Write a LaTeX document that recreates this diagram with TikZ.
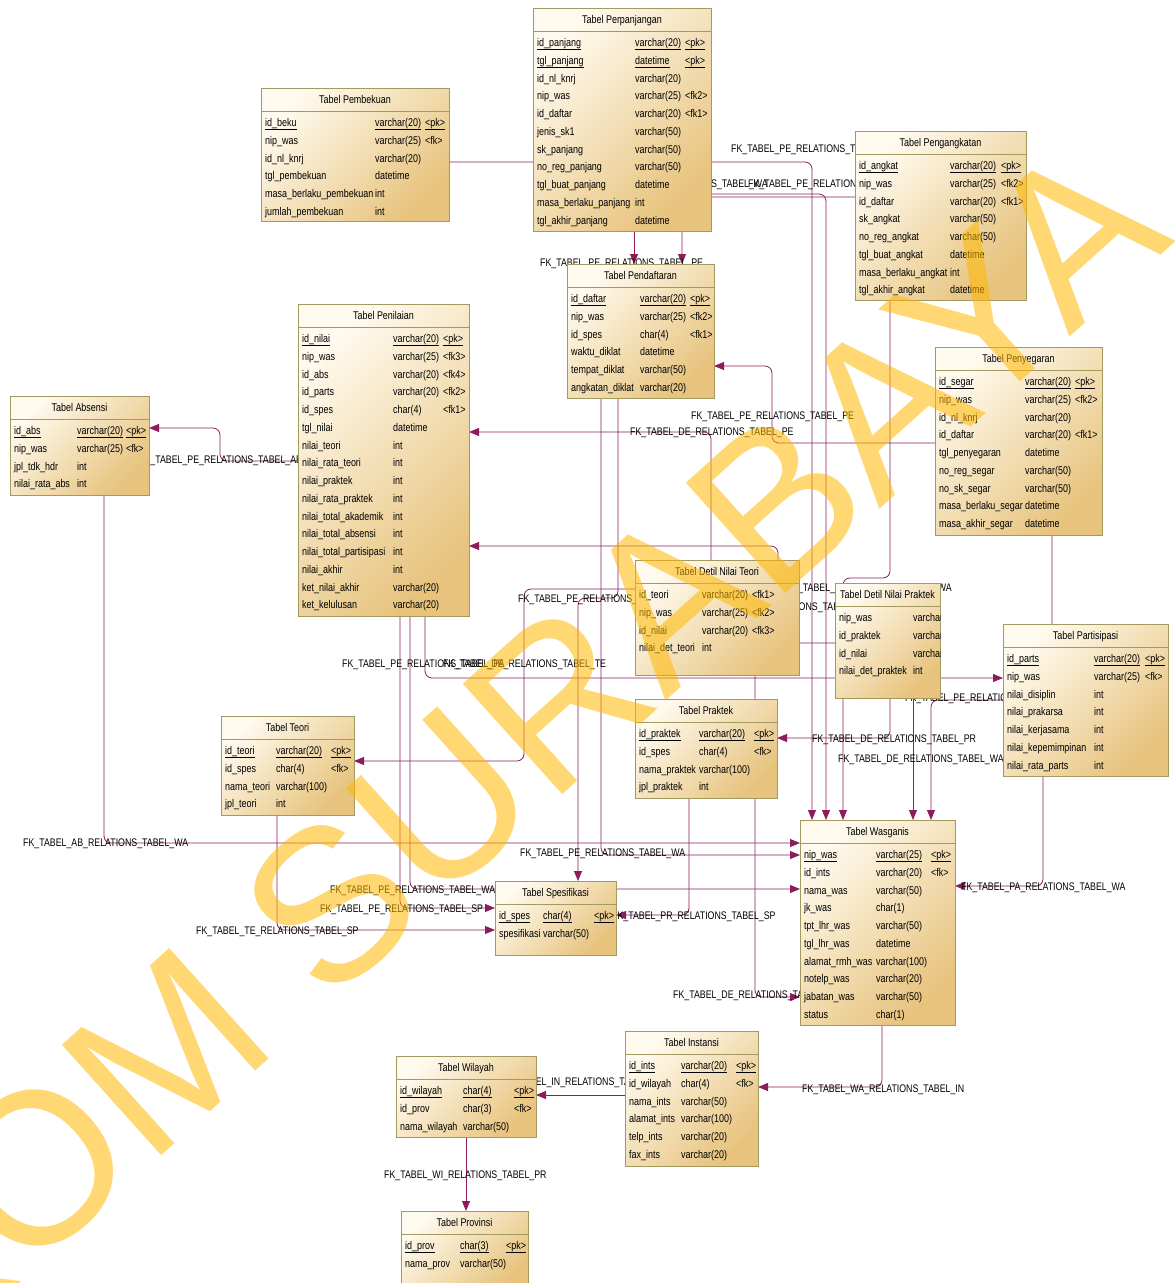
\documentclass[tikz,border=0pt]{standalone}
\usepackage{fontspec}
\setmainfont[FakeStretch=0.8]{Liberation Sans}
\newfontfamily\wmfont{Liberation Sans}
\usetikzlibrary{arrows.meta,calc}
\definecolor{fkcol}{HTML}{8C1D5A}
\definecolor{boxborder}{HTML}{A39A62}
\definecolor{boxlight}{HTML}{FFFAEE}
\definecolor{boxdark}{HTML}{E7C37D}
\definecolor{wmark}{HTML}{FFB800}
\pgfdeclarelayer{links}
\pgfdeclarelayer{wm}
\pgfsetlayers{links,main,wm}
\tikzset{
  erbox/.style={draw=boxborder, line width=0.9pt, inner sep=0pt, outer sep=0pt,
    top color=boxlight, bottom color=boxdark, shading angle=45},
  erborder/.style={draw=boxborder, line width=0.9pt},
  ertitle/.style={inner sep=0pt, font=\fontsize{11.2}{13}\selectfont, anchor=base},
  ercell/.style={inner sep=0pt, font=\fontsize{11.2}{13}\selectfont, anchor=base west},
  ul/.style={draw=black, line width=0.8pt},
  fk/.style={draw=fkcol, line width=0.8pt, rounded corners=7pt,
    -{Triangle[length=10pt,width=8pt]}},
  fklabel/.style={inner sep=0pt, font=\fontsize{11}{13}\selectfont},
  wmstyle/.style={inner sep=0pt, text=wmark, opacity=0.55, rotate=42,
    font=\wmfont\fontsize{216}{216}\selectfont},
}
% #1 name, #2 left, #3 top, #4 width, #5 height, #6 title,
% #7 type column offset, #8 key column offset, #9 rows name/type/key/pk-flag
\newcommand\ertable[9]{%
  \node[erbox, anchor=north west, minimum width=#4pt, minimum height=#5pt] (#1) at (#2,#3) {};
  \node[ertitle] (#1-title) at ($(#1.north west)+(#4/2,15)$) {#6};
  \draw[erborder] ($(#1.north west)+(0,23.5)$) -- ($(#1.north east)+(0,23.5)$);
  \begin{scope}
    \clip (#1.north west) rectangle (#1.south east);
    \foreach \cn/\ct/\ck/\cu [count=\ci] in {#9} {
      \pgfmathsetmacro\ery{38.5+(\ci-1)*17.75}
      \node[ercell] (#1-\ci-n) at ($(#1.north west)+(4,\ery)$) {\cn};
      \node[ercell] (#1-\ci-t) at ($(#1.north west)+(#7,\ery)$) {\ct};
      \node[ercell] (#1-\ci-k) at ($(#1.north west)+(#8,\ery)$) {\ck};
      \ifnum\cu=1
        \draw[ul] ($(#1-\ci-n.base west)+(0,3)$) -- ($(#1-\ci-n.base east)+(0,3)$);
        \draw[ul] ($(#1-\ci-t.base west)+(0,3)$) -- ($(#1-\ci-t.base east)+(0,3)$);
        \draw[ul] ($(#1-\ci-k.base west)+(0,3)$) -- ($(#1-\ci-k.base east)+(0,3)$);
      \fi
    }
  \end{scope}
}
\begin{document}
\catcode`\_=12
\begin{tikzpicture}[x=1pt,y=-1pt]
\useasboundingbox (0,0) rectangle (1175,1283);

% ---------- tables ----------
\ertable{perp}{533}{8}{178}{223}{Tabel Perpanjangan}{102}{152}{%
id_panjang/varchar(20)/<pk>/1,tgl_panjang/datetime/<pk>/1,id_nl_knrj/varchar(20)//0,%
nip_was/varchar(25)/<fk2>/0,id_daftar/varchar(20)/<fk1>/0,jenis_sk1/varchar(50)//0,%
sk_panjang/varchar(50)//0,no_reg_panjang/varchar(50)//0,tgl_buat_panjang/datetime//0,%
masa_berlaku_panjang/int//0,tgl_akhir_panjang/datetime//0}

\ertable{pemb}{261}{88}{188}{133}{Tabel Pembekuan}{114}{164}{%
id_beku/varchar(20)/<pk>/1,nip_was/varchar(25)/<fk>/0,id_nl_knrj/varchar(20)//0,%
tgl_pembekuan/datetime//0,masa_berlaku_pembekuan/int//0,jumlah_pembekuan/int//0}

\ertable{peng}{855}{131}{171}{169}{Tabel Pengangkatan}{95}{146}{%
id_angkat/varchar(20)/<pk>/1,nip_was/varchar(25)/<fk2>/0,id_daftar/varchar(20)/<fk1>/0,%
sk_angkat/varchar(50)//0,no_reg_angkat/varchar(50)//0,tgl_buat_angkat/datetime//0,%
masa_berlaku_angkat/int//0,tgl_akhir_angkat/datetime//0}

\ertable{pend}{567}{264}{147}{134}{Tabel Pendaftaran}{73}{123}{%
id_daftar/varchar(20)/<pk>/1,nip_was/varchar(25)/<fk2>/0,id_spes/char(4)/<fk1>/0,%
waktu_diklat/datetime//0,tempat_diklat/varchar(50)//0,angkatan_diklat/varchar(20)//0}

\ertable{peni}{298}{304}{171}{312}{Tabel Penilaian}{95}{145}{%
id_nilai/varchar(20)/<pk>/1,nip_was/varchar(25)/<fk3>/0,id_abs/varchar(20)/<fk4>/0,%
id_parts/varchar(20)/<fk2>/0,id_spes/char(4)/<fk1>/0,tgl_nilai/datetime//0,%
nilai_teori/int//0,nilai_rata_teori/int//0,nilai_praktek/int//0,nilai_rata_praktek/int//0,%
nilai_total_akademik/int//0,nilai_total_absensi/int//0,nilai_total_partisipasi/int//0,%
nilai_akhir/int//0,ket_nilai_akhir/varchar(20)//0,ket_kelulusan/varchar(20)//0}

\ertable{abs}{10}{396}{139}{99}{Tabel Absensi}{67}{116}{%
id_abs/varchar(20)/<pk>/1,nip_was/varchar(25)/<fk>/0,jpl_tdk_hdr/int//0,nilai_rata_abs/int//0}

\ertable{segar}{935}{347}{167}{188}{Tabel Penyegaran}{90}{140}{%
id_segar/varchar(20)/<pk>/1,nip_was/varchar(25)/<fk2>/0,id_nl_knrj/varchar(20)//0,%
id_daftar/varchar(20)/<fk1>/0,tgl_penyegaran/datetime//0,no_reg_segar/varchar(50)//0,%
no_sk_segar/varchar(50)//0,masa_berlaku_segar/datetime//0,masa_akhir_segar/datetime//0}

\ertable{dteori}{635}{560}{164}{115}{Tabel Detil Nilai Teori}{67}{117}{%
id_teori/varchar(20)/<fk1>/0,nip_was/varchar(25)/<fk2>/0,id_nilai/varchar(20)/<fk3>/0,%
nilai_det_teori/int//0}

\ertable{dprak}{835}{583}{105}{115}{Tabel Detil Nilai Praktek}{78}{128}{%
nip_was/varchar(25)/<fk1>/0,id_praktek/varchar(20)/<fk2>/0,id_nilai/varchar(20)/<fk3>/0,%
nilai_det_praktek/int//0}

\ertable{parts}{1003}{624}{165}{152}{Tabel Partisipasi}{91}{142}{%
id_parts/varchar(20)/<pk>/1,nip_was/varchar(25)/<fk>/0,nilai_disiplin/int//0,%
nilai_prakarsa/int//0,nilai_kerjasama/int//0,nilai_kepemimpinan/int//0,nilai_rata_parts/int//0}

\ertable{teori}{221}{716}{133}{99}{Tabel Teori}{55}{110}{%
id_teori/varchar(20)/<pk>/1,id_spes/char(4)/<fk>/0,nama_teori/varchar(100)//0,jpl_teori/int//0}

\ertable{prak}{635}{699}{142}{99}{Tabel Praktek}{64}{119}{%
id_praktek/varchar(20)/<pk>/1,id_spes/char(4)/<fk>/0,nama_praktek/varchar(100)//0,jpl_praktek/int//0}

\ertable{wasg}{800}{820}{155}{205}{Tabel Wasganis}{76}{131}{%
nip_was/varchar(25)/<pk>/1,id_ints/varchar(20)/<fk>/0,nama_was/varchar(50)//0,jk_was/char(1)//0,%
tpt_lhr_was/varchar(50)//0,tgl_lhr_was/datetime//0,alamat_rmh_was/varchar(100)//0,%
notelp_was/varchar(20)//0,jabatan_was/varchar(50)//0,status/char(1)//0}

\ertable{spes}{495}{881}{121}{74}{Tabel Spesifikasi}{48}{99}{%
id_spes/char(4)/<pk>/1,spesifikasi/varchar(50)//0}

\ertable{ints}{625}{1031}{133}{135}{Tabel Instansi}{56}{111}{%
id_ints/varchar(20)/<pk>/1,id_wilayah/char(4)/<fk>/0,nama_ints/varchar(50)//0,%
alamat_ints/varchar(100)//0,telp_ints/varchar(20)//0,fax_ints/varchar(20)//0}

\ertable{wil}{396}{1056}{140}{81}{Tabel Wilayah}{67}{118}{%
id_wilayah/char(4)/<pk>/1,id_prov/char(3)/<fk>/0,nama_wilayah/varchar(50)//0}

\ertable{prov}{401}{1211}{127}{80}{Tabel Provinsi}{59}{105}{%
id_prov/char(3)/<pk>/1,nama_prov/varchar(50)//0}

% ---------- references and their names ----------
\begin{pgfonlayer}{links}
\fill[white] (0,0) rectangle (1175,1283);
\draw[fk] (pemb.east |- 0,162) -- (812,162) -- (wasg.north -| 812,0);
\draw[fk] (perp.east |- 0,194) -- (826,194) -- (wasg.north -| 826,0);
\draw[fk] (peng.west |- 0,197) -- (682,197) -- (pend.north -| 682,0);
\draw[fk] (perp.south -| 634,0) -- (pend.north -| 634,0);
\draw[fk] (peng.south -| 890,0) -- (890,578) -- (843,578) -- (wasg.north -| 843,0);
\draw[fk] (segar.south -| 1052,0) -- (1052,700) -- (931,700) -- (wasg.north -| 931,0);
\draw[fk] (segar.west |- 0,443) -- (772,443) -- (772,366) -- (pend.east |- 0,366);
\draw[fk] (pend.south -| 601,0) -- (601,855) -- (wasg.west |- 0,855);
\draw[fk] (pend.south -| 618,0) -- (618,598) -- (578,598) -- (spes.north -| 578,0);
\draw[fk] (peni.south -| 410,0) -- (410,889) -- (wasg.west |- 0,889);
\draw[fk] (peni.west |- 0,461) -- (220,461) -- (220,428) -- (abs.east |- 0,428);
\draw[fk] (peni.south -| 425,0) -- (425,678) -- (parts.west |- 0,678);
\draw[fk] (peni.south -| 400,0) -- (400,908) -- (spes.west |- 0,908);
\draw[fk] (abs.south -| 104,0) -- (104,843) -- (wasg.west |- 0,843);
\draw[fk] (dteori.west |- 0,589) -- (524,589) -- (524,761) -- (teori.east |- 0,761);
\draw[fk] (dteori.south -| 755,0) -- (755,997) -- (wasg.west |- 0,997);
\draw[fk] (dteori.north -| 711,0) -- (711,432) -- (peni.east |- 0,432);
\draw[fk] (dprak.south -| 913,0) -- (wasg.north -| 913,0);
\draw[fk] (dprak.south -| 890,0) -- (890,738) -- (prak.east |- 0,738);
\draw[fk] (dprak.west |- 0,643) -- (778,643) -- (778,546) -- (peni.east |- 0,546);
\draw[fk] (parts.south -| 1043,0) -- (1043,886) -- (wasg.east |- 0,886);
\draw[fk] (teori.south -| 277,0) -- (277,930) -- (spes.west |- 0,930);
\draw[fk] (prak.south -| 689,0) -- (689,915) -- (spes.east |- 0,915);
\draw[fk] (wasg.south -| 882,0) -- (882,1087) -- (ints.east |- 0,1087);
\draw[fk] (ints.west |- 0,1095) -- (wil.east |- 0,1095);
\draw[fk] (wil.south -| 466,0) -- (prov.north -| 466,0);

\node[fklabel, anchor=base west] (l1) at (731,152) {FK_TABEL_PE_RELATIONS_TABEL_WA};
\node[fklabel, anchor=base east] (l2) at (768,187) {FK_TABEL_PE_RELATIONS_TABEL_WA};
\node[fklabel, anchor=base west] (l3) at (748,187) {FK_TABEL_PE_RELATIONS_TABEL_PE};
\node[fklabel, anchor=base west] (l4) at (540,266) {FK_TABEL_PE_RELATIONS_TABEL_PE};
\node[fklabel, anchor=base west] (l5) at (691,419) {FK_TABEL_PE_RELATIONS_TABEL_PE};
\node[fklabel, anchor=base west] (l6) at (630,435) {FK_TABEL_DE_RELATIONS_TABEL_PE};
\node[fklabel, anchor=base west] (l7) at (139,463) {FK_TABEL_PE_RELATIONS_TABEL_AB};
\node[fklabel, anchor=base east] (l8) at (952,591) {FK_TABEL_PE_RELATIONS_TABEL_WA};
\node[fklabel, anchor=base west] (l9) at (518,602) {FK_TABEL_PE_RELATIONS_TABEL_SP};
\node[fklabel, anchor=base west] (l10) at (703,610) {FK_TABEL_DE_RELATIONS_TABEL_PE};
\node[fklabel, anchor=base west] (l11) at (342,667) {FK_TABEL_PE_RELATIONS_TABEL_PA};
\node[fklabel, anchor=base west] (l12) at (443,667) {FK_TABEL_DE_RELATIONS_TABEL_TE};
\node[fklabel, anchor=base west] (l13) at (905,701) {FK_TABEL_PE_RELATIONS_TABEL_WA};
\node[fklabel, anchor=base west] (l14) at (812,742) {FK_TABEL_DE_RELATIONS_TABEL_PR};
\node[fklabel, anchor=base west] (l15) at (838,762) {FK_TABEL_DE_RELATIONS_TABEL_WA};
\node[fklabel, anchor=base west] (l16) at (23,846) {FK_TABEL_AB_RELATIONS_TABEL_WA};
\node[fklabel, anchor=base west] (l17) at (520,856) {FK_TABEL_PE_RELATIONS_TABEL_WA};
\node[fklabel, anchor=base west] (l18) at (961,890) {FK_TABEL_PA_RELATIONS_TABEL_WA};
\node[fklabel, anchor=base west] (l19) at (330,893) {FK_TABEL_PE_RELATIONS_TABEL_WA};
\node[fklabel, anchor=base west] (l20) at (320,912) {FK_TABEL_PE_RELATIONS_TABEL_SP};
\node[fklabel, anchor=base west] (l21) at (612,919) {FK_TABEL_PR_RELATIONS_TABEL_SP};
\node[fklabel, anchor=base west] (l22) at (196,934) {FK_TABEL_TE_RELATIONS_TABEL_SP};
\node[fklabel, anchor=base west] (l23) at (673,998) {FK_TABEL_DE_RELATIONS_TABEL_WA};
\node[fklabel, anchor=base west] (l24) at (503,1085) {FK_TABEL_IN_RELATIONS_TABEL_WI};
\node[fklabel, anchor=base west] (l25) at (802,1092) {FK_TABEL_WA_RELATIONS_TABEL_IN};
\node[fklabel, anchor=base west] (l26) at (384,1178) {FK_TABEL_WI_RELATIONS_TABEL_PR};
\end{pgfonlayer}

% ---------- watermark ----------
\begin{pgfonlayer}{wm}
\node[wmstyle] (wm) at (372,866) {STIKOM SURABAYA};
\end{pgfonlayer}
\end{tikzpicture}
\end{document}
